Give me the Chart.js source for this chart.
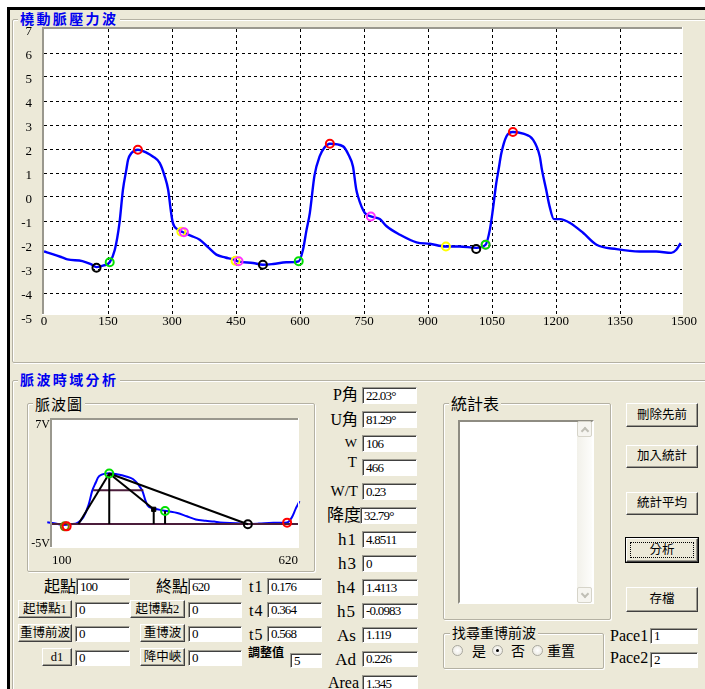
<!DOCTYPE html>
<html>
<head>
<meta charset="utf-8">
<script src="https://cdn.jsdelivr.net/npm/chart.js@4.4.0/dist/chart.umd.min.js"></script>
<style>
html,body{margin:0;padding:0;background:#fff;}
body{position:relative;width:705px;height:689px;overflow:hidden;font-family:"Liberation Serif","Noto Sans CJK TC",serif;color:#000;}
#win{position:absolute;left:7px;top:7px;right:0;bottom:0;background:#ECE9D8;border-top:3px solid #000;border-left:3px solid #000;}
.grp{position:absolute;border:1px solid #b4b1a3;box-shadow:inset 1px 1px 0 #fff,1px 1px 0 #fff;border-radius:2px;}
.ttl{position:absolute;background:#ECE9D8;padding:0 2px;white-space:nowrap;line-height:1;}
.lbl{position:absolute;white-space:nowrap;}
.fld{position:absolute;box-sizing:border-box;background:#fff;border-style:solid;border-width:1px;border-color:#9d9b90 #fff #fff #9d9b90;box-shadow:inset 1px 1px 0 #404040;font-family:"Liberation Serif";font-size:13px;letter-spacing:-0.8px;padding-left:3px;white-space:nowrap;overflow:hidden;}
.btn{position:absolute;box-sizing:border-box;background:#ECE9D8;border:1px solid;border-color:#fff #404040 #404040 #fff;box-shadow:inset -1px -1px 0 #9d9b90;display:flex;align-items:center;justify-content:center;font-family:"Liberation Serif","Noto Sans CJK TC";font-size:12.5px;white-space:nowrap;}
.btn.def{outline:1px solid #000;}
.btn.def::after{content:'';position:absolute;left:3px;top:3px;right:3px;bottom:3px;border:1px dotted #000;}
.rad{position:absolute;width:11px;height:11px;border-radius:50%;border:1px solid #a9a89f;background:radial-gradient(#fff,#e6e4da);box-sizing:border-box;}
.rad.on::after{content:'';position:absolute;left:3px;top:3px;width:3px;height:3px;border-radius:50%;background:#000;}
.lst{position:absolute;box-sizing:border-box;background:#fff;border-style:solid;border-width:2px;border-color:#8e8c82 #fff #fff #8e8c82;}
.sb{position:absolute;background:linear-gradient(to right,#f2f1ea,#fdfdfb);}
.sbb{position:absolute;box-sizing:border-box;border:1px solid #d6d4c9;border-radius:2px;background:#f6f5f0;}
.sbb::after{content:'';position:absolute;left:4px;width:4px;height:4px;border-color:#c0bfb6;border-style:solid;border-width:2px 0 0 2px;}
.sbb.up::after{top:6px;transform:rotate(45deg);}
.sbb.dn::after{top:3px;transform:rotate(225deg);}
canvas{position:absolute;}
</style>
</head>
<body>
<div id="win"></div>
<div id="ui"></div>
<canvas id="wave" width="705" height="340" style="left:0;top:0"></canvas>
<canvas id="mini" width="280" height="175" style="left:28px;top:408px"></canvas>
<script>
// Radial artery pressure wave: sample index against volts
const sampleIdx = [0, 20, 40, 55, 90, 110, 123, 140, 154, 166, 177, 185, 193, 197, 205, 220, 240, 255, 271, 283,
  291, 298, 302, 314, 326, 345, 365, 385, 404, 425, 443, 455, 490, 513, 537, 568, 597, 607, 615, 623,
  634, 646, 657, 670, 701, 714, 724, 732, 736, 744, 752, 766, 787, 803, 834, 873, 904, 942, 974, 1013,
  1035, 1045, 1052, 1060, 1065, 1072, 1084, 1099, 1123, 1146, 1162, 1167, 1177, 1185, 1195, 1209, 1233, 1264, 1295, 1342,
  1396, 1435, 1470, 1482, 1492];
const pressure = [-2.27, -2.38, -2.5, -2.6, -2.67, -2.8, -2.92, -2.85, -2.72, -2.2, -1.07, 0.3, 1.14, 1.55, 1.83, 1.97, 1.85, 1.69, 1.42, 0.86,
  0.3, -0.67, -1.08, -1.36, -1.47, -1.62, -1.78, -2.1, -2.4, -2.52, -2.6, -2.68, -2.75, -2.82, -2.79, -2.72, -2.68, -2.2, -1.4, -0.67,
  0.9, 1.69, 2.05, 2.22, 2.11, 1.75, 1.28, 0.3, 0.02, -0.39, -0.67, -0.81, -0.92, -1.22, -1.57, -1.89, -1.95, -2.06, -2.06, -2.12,
  -1.99, -1.36, -0.53, 0.58, 1.1, 1.83, 2.53, 2.71, 2.64, 2.39, 1.69, 1.14, 0.3, -0.39, -0.92, -0.92, -1.08, -1.5, -1.99, -2.17,
  -2.27, -2.27, -2.33, -2.2, -1.92];

// Detected landmarks on the wave
const peakIdx = [220, 670, 1099],          peakVal = [1.97, 2.22, 2.71];
const footIdx = [154, 597, 1035],          footVal = [-2.72, -2.68, -1.99];
const troughIdx = [123, 513, 1013],        troughVal = [-2.95, -2.82, -2.17];
const notchIdx = [322, 449, 942],          notchVal = [-1.45, -2.66, -2.06];
const dicroticIdx = [328, 456, 766, 1035], dicroticVal = [-1.47, -2.68, -0.81, -1.99];

// Axis ticks
const xTickLabels = [0, 150, 300, 450, 600, 750, 900, 1050, 1200, 1350, 1500];
const yTickLabels = [-5, -4, -3, -2, -1, 0, 1, 2, 3, 4, 5, 6, 7];

// Single-beat analysis window (sample 100 to 620)
const miniRange = [100, 620];
const voltRange = [-5, 7];
const baseV = -2.83;
const footPt = [156, -2.83];
const apexPt = [221, 1.95];
const notchPt = [315, -1.44];
const reflPt = [339, -1.6];
const endPt = [514, -2.85];
const widthSpan = [187, 293], widthLevel = 0.36;
const startMarkIdx = [131, 597], startMarkVal = [-3.05, -2.7];
const olivePt = [127, -3.05];

/* ---------- form controls ---------- */
const ui = document.getElementById('ui');
function put(cls, text, css) {
  const d = document.createElement('div');
  d.className = cls;
  if (text) d.textContent = text;
  Object.assign(d.style, css);
  ui.appendChild(d);
  return d;
}
function label(text, x, cy, size, align, extra) {
  const h = Math.round(size * 1.4);
  const css = {top: (cy - h / 2) + 'px', height: h + 'px', lineHeight: h + 'px', fontSize: size + 'px'};
  if (align === 'r') css.right = (705 - x) + 'px'; else css.left = x + 'px';
  return put('lbl', text, Object.assign(css, extra || {}));
}
function box(cls, x1, y1, x2, y2, text) {
  return put(cls, text, {left: x1 + 'px', top: y1 + 'px', width: (x2 - x1) + 'px', height: (y2 - y1) + 'px', lineHeight: (y2 - y1 - 2) + 'px'});
}
function group(x1, y1, x2, y2) { box('grp', x1, y1, x2, y2, ''); }
function title(text, x, cy, size, extra) {
  put('ttl', text, Object.assign({left: x + 'px', top: (cy - size / 2 - 1) + 'px', fontSize: size + 'px', fontFamily: '"Noto Sans CJK TC"'}, extra || {}));
}

group(12, 19, 720, 361);
group(12, 380, 720, 720);
group(27, 403, 313, 570);
group(443, 403, 609, 618);
group(443, 633, 602, 667);

const blueTitle = {color: '#0000F0', fontWeight: '700', letterSpacing: '2.4px'};
title('橈動脈壓力波', 18, 19, 14, blueTitle);
title('脈波時域分析', 18, 380, 14, blueTitle);
title('脈波圖', 33, 404, 15, {letterSpacing: '1px'});
title('統計表', 449, 404, 16);
title('找尋重博前波', 450, 633, 14);

// measurement labels
[['P角', 358, 395, 16], ['U角', 358, 420, 16], ['W', 357, 443, 13], ['T', 357, 462, 15],
 ['W/T', 358, 491, 15], ['降度', 361, 516, 17], ['h1', 357, 540, 17], ['h3', 357, 564, 17],
 ['h4', 356, 588, 17], ['h5', 356, 612, 17], ['As', 356, 636, 17], ['Ad', 356, 660, 17], ['Area', 359, 683, 16]]
  .forEach(([t, x, cy, s]) => label(t, x, cy, s, 'r', t.length === 2 && /[a-z]\d/.test(t) ? {letterSpacing: '1px'} : {}));

label('起點', 76, 585, 16, 'r', {fontFamily: '"Noto Sans CJK TC"'});
label('終點', 188, 585, 16, 'r', {fontFamily: '"Noto Sans CJK TC"'});
label('t1', 249, 587, 16, 'l', {letterSpacing: '1px'});
label('t4', 249, 611, 16, 'l', {letterSpacing: '1px'});
label('t5', 249, 635, 16, 'l', {letterSpacing: '1px'});
label('調整值', 248, 651, 12, 'l', {fontFamily: '"Noto Sans CJK TC"', fontWeight: '700'});
label('Pace1', 610, 636, 16, 'l');
label('Pace2', 610, 658, 16, 'l');
label('是', 472, 650, 14, 'l', {fontFamily: '"Noto Sans CJK TC"'});
label('否', 511, 650, 14, 'l', {fontFamily: '"Noto Sans CJK TC"'});
label('重置', 547, 650, 14, 'l', {fontFamily: '"Noto Sans CJK TC"'});

// value fields
[[362, 387, 417, 404, '22.03°'], [362, 411, 417, 428, '81.29°'], [362, 435, 417, 452, '106'],
 [362, 459, 417, 476, '466'], [362, 483, 417, 500, '0.23'], [360, 507, 417, 524, '32.79°'],
 [362, 531, 417, 548, '4.8511'], [362, 555, 417, 572, '0'], [362, 579, 418, 596, '1.4113'],
 [362, 603, 418, 619, '-0.0983'], [362, 627, 418, 643, '1.119'], [362, 651, 418, 667, '0.226'],
 [362, 675, 418, 692, '1.345'],
 [76, 578, 130, 595, '100'], [188, 578, 242, 595, '620'], [267, 578, 322, 595, '0.176'],
 [75, 602, 130, 618, '0'], [188, 602, 242, 618, '0'], [267, 602, 322, 618, '0.364'],
 [75, 626, 130, 642, '0'], [188, 626, 242, 642, '0'], [267, 626, 322, 642, '0.568'],
 [75, 650, 130, 666, '0'], [188, 650, 242, 666, '0'], [290, 653, 322, 668, '5'],
 [650, 628, 698, 644, '1'], [650, 652, 698, 668, '2']]
  .forEach(([a, b, c, d, t]) => box('fld', a, b, c, d, t));

// buttons
[[18, 600, 72, 618, '起博點1'], [130, 600, 185, 618, '起博點2'], [18, 624, 72, 642, '重博前波'],
 [140, 624, 185, 642, '重博波'], [42, 648, 72, 666, 'd1'], [140, 648, 185, 666, '降中峽'],
 [626, 403, 698, 427, '刪除先前'], [626, 445, 698, 468, '加入統計'], [626, 492, 698, 515, '統計平均'],
 [626, 538, 698, 562, '分析'], [626, 587, 698, 612, '存檔']]
  .forEach(([a, b, c, d, t]) => {
    const el = box('btn', a, b, c, d, t);
    if (t === '分析') el.classList.add('def');
  });

// radio buttons
[[457, 650, false], [497, 650, true], [537, 650, false]].forEach(([cx, cy, on]) => {
  put('rad' + (on ? ' on' : ''), '', {left: (cx - 5.5) + 'px', top: (cy - 5.5) + 'px'});
});

// statistics list with scrollbar
box('lst', 458, 420, 594, 604, '');
box('sb', 577, 422, 592, 602, '');
box('sbb up', 577, 421, 592, 437, '');
box('sbb dn', 577, 587, 592, 603, '');

/* ---------- charts ---------- */
const pts = (xs, ys) => xs.map((x, i) => ({x, y: ys[i]}));
const wavePts = pts(sampleIdx, pressure);

// white plotting surface with a sunken edge
const sunkenPlot = {
  id: 'sunkenPlot',
  beforeDraw(chart, args, o) {
    const {ctx, chartArea: a} = chart;
    ctx.save();
    ctx.fillStyle = '#fff';
    ctx.fillRect(a.left, a.top, a.right - o.trimR - a.left, a.bottom - o.trimB - a.top);
    ctx.restore();
  },
  afterDraw(chart, args, o) {
    const {ctx, chartArea: a} = chart;
    const r = a.right - o.trimR, b = a.bottom - o.trimB;
    ctx.save();
    ctx.fillStyle = '#9a988e';
    ctx.fillRect(a.left - 2, a.top - 2, r - a.left + 3, 2);
    ctx.fillRect(a.left - 2, a.top - 2, 2, b - a.top + 3);
    ctx.fillStyle = '#fff';
    ctx.fillRect(r, a.top - 2, 1, b - a.top + 3);
    ctx.fillRect(a.left - 2, b, r - a.left + 3, 1);
    ctx.restore();
  }
};

const serif = size => ({family: 'Liberation Serif', size});
const plain = v => String(v);
const ring = (data, color, order, extra) => Object.assign({
  type: 'line', data, showLine: false, order,
  pointStyle: 'circle', pointRadius: 4, pointBorderWidth: 2,
  pointBorderColor: color, pointBackgroundColor: 'rgba(0,0,0,0)'
}, extra || {});

const hideEdge = edges => c => (c.tick && edges.includes(c.tick.value)) ? 'rgba(0,0,0,0)' : '#000';

new Chart(document.getElementById('wave'), {
  type: 'line',
  data: {
    datasets: [
      {data: wavePts, borderColor: '#0000FF', borderWidth: 2.4, pointRadius: 0,
       cubicInterpolationMode: 'monotone', fill: false, order: 10},
      ring(pts(notchIdx, notchVal), '#FFFF00', 5),
      ring(pts(dicroticIdx, dicroticVal), '#FF33FF', 4),
      ring(pts(troughIdx, troughVal), '#000000', 3),
      ring(pts(footIdx, footVal), '#00E000', 2),
      ring(pts(peakIdx, peakVal), '#FF0000', 1)
    ]
  },
  options: {
    responsive: false, animation: false, events: [],
    layout: {padding: {left: 0, top: 29, right: 21, bottom: 5}},
    plugins: {legend: {display: false}, tooltip: {enabled: false}, sunkenPlot: {trimR: 2, trimB: 3}},
    scales: {
      x: {
        type: 'linear', min: 0, max: 1500,
        afterBuildTicks: s => { s.ticks = xTickLabels.map(v => ({value: v})); },
        afterFit: s => { s.height = 18; },
        grid: {color: hideEdge([0, 1500]), drawTicks: false, borderDash: [3, 3]},
        border: {display: false, dash: [3, 3]},
        ticks: {font: serif(13), color: '#000', padding: -3, maxRotation: 0, autoSkip: false, callback: plain}
      },
      y: {
        type: 'linear', min: -5, max: 7,
        afterBuildTicks: s => { s.ticks = yTickLabels.map(v => ({value: v})); },
        afterFit: s => { s.width = 44; },
        grid: {color: hideEdge([-5, 7]), drawTicks: false, borderDash: [3, 3]},
        border: {display: false, dash: [3, 3]},
        ticks: {font: serif(13), color: '#000', padding: 12, labelOffset: 3, autoSkip: false, callback: plain}
      }
    }
  },
  plugins: [sunkenPlot]
});

// single-beat view
const beatPts = wavePts.filter(p => p.x >= miniRange[0] - 20 && p.x <= miniRange[1] + 20);
const seg = (a, b, color, order) => ({
  type: 'line', data: [{x: a[0], y: a[1]}, {x: b[0], y: b[1]}],
  borderColor: color, borderWidth: 2, pointRadius: 0, order
});
const blackSegs = [
  [footPt, apexPt], [apexPt, notchPt], [apexPt, endPt],
  [apexPt, [apexPt[0], baseV]], [notchPt, [notchPt[0], baseV]], [reflPt, [reflPt[0], baseV]]
].map(([a, b]) => seg(a, b, '#000', 2));

new Chart(document.getElementById('mini'), {
  type: 'line',
  data: {
    datasets: [
      {data: beatPts, borderColor: '#0000FF', borderWidth: 2, pointRadius: 0,
       cubicInterpolationMode: 'monotone', order: 10},
      seg([miniRange[0], baseV], [miniRange[1], baseV], '#4b1d3b', 5),
      seg([widthSpan[0], widthLevel], [widthSpan[1], widthLevel], '#4b1d3b', 5),
      ...blackSegs,
      ring([{x: olivePt[0], y: olivePt[1]}], '#7a7a00', 1),
      ring(pts(startMarkIdx, startMarkVal), '#FF0000', 0),
      ring([{x: apexPt[0], y: apexPt[1]}, {x: reflPt[0], y: reflPt[1]}], '#00E000', 0),
      ring([{x: endPt[0], y: endPt[1]}], '#000000', 0),
      ring([{x: notchPt[0], y: notchPt[1]}], '#000000', 0,
           {pointStyle: 'rect', pointRadius: 3, pointBackgroundColor: '#000', pointBorderWidth: 1})
    ]
  },
  options: {
    responsive: false, animation: false, events: [],
    clip: false,
    layout: {padding: {left: 0, top: 12, right: 10, bottom: 16}},
    plugins: {legend: {display: false}, tooltip: {enabled: false}, sunkenPlot: {trimR: 0, trimB: 0}},
    scales: {
      x: {
        type: 'linear', min: miniRange[0], max: miniRange[1],
        afterBuildTicks: s => { s.ticks = miniRange.map(v => ({value: v})); },
        afterFit: s => { s.height = 20; },
        grid: {display: false, drawTicks: false}, border: {display: false},
        ticks: {font: serif(13), color: '#000', padding: 6, align: 'inner', maxRotation: 0, autoSkip: false, callback: plain}
      },
      y: {
        type: 'linear', min: voltRange[0], max: voltRange[1],
        afterBuildTicks: s => { s.ticks = voltRange.map(v => ({value: v})); },
        afterFit: s => { s.width = 24; },
        grid: {display: false, drawTicks: false}, border: {display: false},
        ticks: {
          color: '#000', padding: 2, autoSkip: false,
          callback: v => v === voltRange[1] ? ['', v + 'V'] : [v + 'V', ''],
          font: c => ({family: 'Liberation Serif', size: 12, lineHeight: c.index === 1 ? '10px' : '6px'})
        }
      }
    }
  },
  plugins: [sunkenPlot]
});
</script>
</body>
</html>
